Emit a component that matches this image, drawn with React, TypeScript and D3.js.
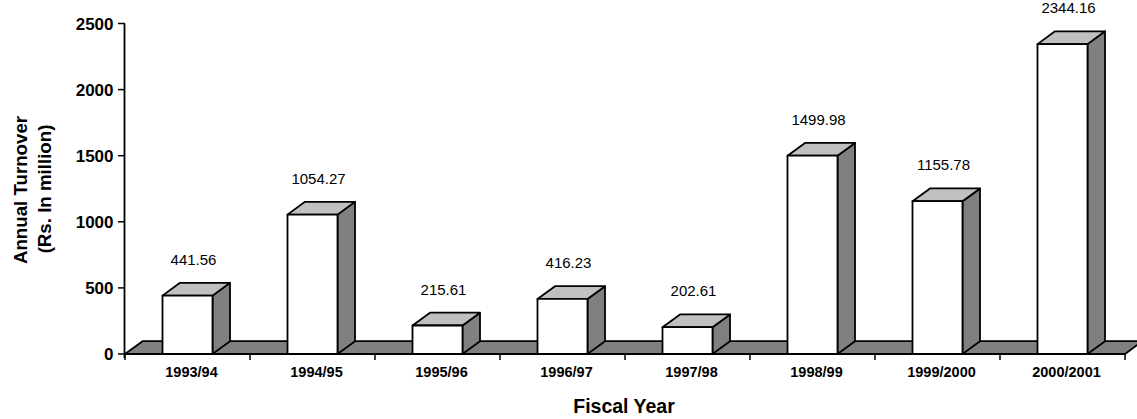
import React from "react";
import * as d3 from "d3";

// Annual turnover by fiscal year (Rs. in million)
const fiscalYears: string[] = [
  "1993/94",
  "1994/95",
  "1995/96",
  "1996/97",
  "1997/98",
  "1998/99",
  "1999/2000",
  "2000/2001",
];
const turnover: number[] = [441.56, 1054.27, 215.61, 416.23, 202.61, 1499.98, 1155.78, 2344.16];
const yTicks: number[] = [0, 500, 1000, 1500, 2000, 2500];

const W = 1137;
const H = 419;
const FONT = "'Liberation Sans', Arial, Helvetica, sans-serif";

// 3D depth offset of bars and floor
const DX = 17.5;
const DY = 12.8;

export default function App() {
  const x = d3.scaleBand<string>().domain(fiscalYears).range([125, 1125]).padding(0);
  const y = d3.scaleLinear().domain([0, 2500]).range([354, 23.5]);
  const bw = x.bandwidth();
  const base = y(0);
  const x0 = 125;
  const x1 = 1125;

  const stroke = "#000";
  const sw = 1.8;

  const pts = (p: [number, number][]) => p.map((q) => q.join(",")).join(" ");

  return (
    <svg
      width={W}
      height={H}
      style={{ position: "absolute", left: 0, top: 0, display: "block", background: "#fff" }}
    >
      {/* floor */}
      <polygon
        points={pts([
          [x0, base],
          [x0 + DX, base - DY],
          [x1 + DX, base - DY],
          [x1, base],
        ])}
        fill="#808080"
        stroke={stroke}
        strokeWidth={sw}
        strokeLinejoin="round"
      />

      {/* bars */}
      {turnover.map((v, i) => {
        const cat = fiscalYears[i];
        const bx = (x(cat) as number) + bw * 0.3;
        const w = bw * 0.4;
        const top = y(v);
        return (
          <g key={cat}>
            <polygon
              points={pts([
                [bx + w, top],
                [bx + w + DX, top - DY],
                [bx + w + DX, base - DY],
                [bx + w, base],
              ])}
              fill="#808080"
              stroke={stroke}
              strokeWidth={sw}
              strokeLinejoin="round"
            />
            <polygon
              points={pts([
                [bx, top],
                [bx + DX, top - DY],
                [bx + w + DX, top - DY],
                [bx + w, top],
              ])}
              fill="#c0c0c0"
              stroke={stroke}
              strokeWidth={sw}
              strokeLinejoin="round"
            />
            <rect
              x={bx}
              y={top}
              width={w}
              height={base - top}
              fill="#fff"
              stroke={stroke}
              strokeWidth={sw}
              strokeLinejoin="round"
            />
            <text
              x={bx + w / 2 + 6}
              y={top - DY - 18}
              textAnchor="middle"
              fontFamily={FONT}
              fontSize={15}
              fill="#000"
            >
              {v.toFixed(2)}
            </text>
          </g>
        );
      })}

      {/* x axis */}
      <line x1={x0} x2={x1} y1={base} y2={base} stroke={stroke} strokeWidth={sw} />
      {[...fiscalYears.map((c) => x(c) as number), x1].map((t, i) => (
        <line key={i} x1={t} x2={t} y1={base} y2={base + 6} stroke={stroke} strokeWidth={1.5} />
      ))}
      {fiscalYears.map((c) => (
        <text
          key={c}
          x={(x(c) as number) + bw / 2 + 4}
          y={377}
          textAnchor="middle"
          fontFamily={FONT}
          fontWeight="bold"
          fontSize={14.5}
          fill="#000"
        >
          {c}
        </text>
      ))}

      {/* y axis */}
      <line x1={x0 - 0.5} x2={x0 - 0.5} y1={y(2500)} y2={base + 4} stroke={stroke} strokeWidth={sw} />
      {yTicks.map((t) => (
        <g key={t}>
          <line x1={118} x2={x0} y1={y(t)} y2={y(t)} stroke={stroke} strokeWidth={1.5} />
          <text
            x={113.5}
            y={y(t) + 6}
            textAnchor="end"
            fontFamily={FONT}
            fontWeight="bold"
            fontSize={17}
            fill="#000"
          >
            {t}
          </text>
        </g>
      ))}

      {/* axis titles */}
      <text
        x={624}
        y={412.7}
        textAnchor="middle"
        fontFamily={FONT}
        fontWeight="bold"
        fontSize={19.5}
        fill="#000"
      >
        Fiscal Year
      </text>
      <text
        transform={`translate(26.7, 190) rotate(-90)`}
        textAnchor="middle"
        fontFamily={FONT}
        fontWeight="bold"
        fontSize={18.7}
        fill="#000"
      >
        Annual Turnover
      </text>
      <text
        transform={`translate(51, 189) rotate(-90)`}
        textAnchor="middle"
        fontFamily={FONT}
        fontWeight="bold"
        fontSize={18.7}
        fill="#000"
      >
        (Rs. In million)
      </text>
    </svg>
  );
}
